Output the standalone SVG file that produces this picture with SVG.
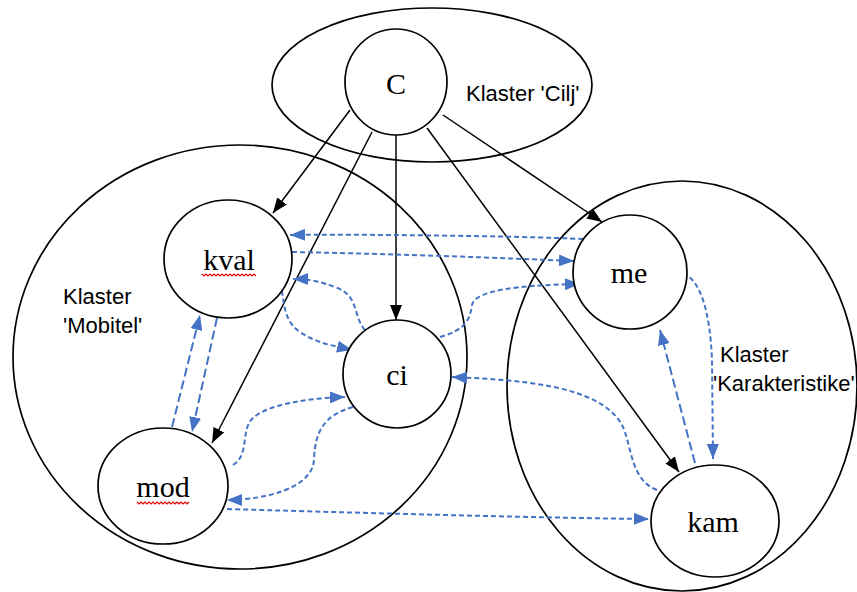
<svg xmlns="http://www.w3.org/2000/svg" width="857" height="592" viewBox="0 0 857 592">
<style>
.cl{fill:none;stroke:#000;stroke-width:1.7}
.nd{fill:#fff;stroke:#000;stroke-width:1.7}
.nt{font-family:"Liberation Serif","Times New Roman",serif;font-size:30px;fill:#000;text-anchor:middle}
.lb{font-family:"Liberation Sans",Arial,sans-serif;font-size:22px;fill:#000}
.bk{fill:none;stroke:#000;stroke-width:1.5;marker-end:url(#ab)}
.bs{fill:none;stroke:#4472C4;stroke-width:2;stroke-dasharray:5 3;marker-end:url(#ablue)}
.bl{fill:none;stroke:#4472C4;stroke-width:2;stroke-dasharray:9 4;marker-end:url(#ablue)}
.sq{fill:none;stroke:#e00;stroke-width:1.2}
</style>
<defs>
<marker id="ab" viewBox="0 0 15 12" refX="15" refY="6" markerWidth="15" markerHeight="12" markerUnits="userSpaceOnUse" orient="auto">
<path d="M0,0 L15,6 L0,12 z" fill="#000"/>
</marker>
<marker id="ablue" viewBox="0 0 15 12" refX="15" refY="6" markerWidth="15" markerHeight="12" markerUnits="userSpaceOnUse" orient="auto">
<path d="M0,0 L15,6 L0,12 z" fill="#4472C4"/>
</marker>
</defs>
<g id="clusters">
<ellipse id="cluster-cilj" class="cl" cx="432" cy="85" rx="160" ry="77"/>
<ellipse id="cluster-mobitel" class="cl" cx="240" cy="357" rx="227" ry="212"/>
<ellipse id="cluster-karakteristike" class="cl" cx="682" cy="386" rx="175" ry="205"/>
<text class="lb" x="466" y="101">Klaster 'Cilj'</text>
<text class="lb" x="63" y="304">Klaster</text>
<text class="lb" x="63" y="333">'Mobitel'</text>
<text class="lb" x="720" y="362">Klaster</text>
<text class="lb" x="713" y="391">'Karakteristike'</text>
</g>
<g id="connectors">
<path class="bk" d="M350,110 L273,213"/>
<path class="bk" d="M372,132 L212,443"/>
<path class="bk" d="M396,135 L396,320"/>
<path class="bk" d="M427,128 L679,472"/>
<path class="bk" d="M443,115 L602,222"/>
<path class="bs" d="M583,239 C520,236 350,234 290,235"/>
<path class="bs" d="M292,252 C400,254 500,258 574,261"/>
<path class="bs" d="M365,330 C352,315 360,296 335,287 S300,279 293,279"/>
<path class="bs" d="M280,283 C285,300 282,320 300,332 S335,346 352,350"/>
<path class="bs" d="M440,337 C465,330 470,320 472,305 C475,290 520,285 580,284"/>
<path class="bs" d="M657,490 C630,480 632,445 622,425 C600,385 520,380 452,377"/>
<path class="bs" d="M233,465 C250,455 240,430 253,418 C268,404 310,398 345,397"/>
<path class="bs" d="M353,407 C325,415 315,430 314,460 C312,490 260,500 227,500"/>
<path class="bs" d="M227,509 C400,514 550,518 649,519"/>
<path class="bl" d="M172,427 L200,315"/>
<path class="bl" d="M217,318 L192,432"/>
<path class="bs" d="M683,273 C700,280 710,310 712,360 L713,459"/>
<path class="bl" d="M695,463 L660,330"/>
</g>
<g id="node-C">
<ellipse class="nd" cx="396" cy="82" rx="51" ry="53"/>
<text class="nt" x="396" y="94">C</text>
</g>
<g id="node-kval">
<ellipse class="nd" cx="228" cy="259" rx="64" ry="59"/>
<text class="nt" x="229" y="270">kval</text>
<path class="sq" d="M202,274 l2,2 l2,-2 l2,2 l2,-2 l2,2 l2,-2 l2,2 l2,-2 l2,2 l2,-2 l2,2 l2,-2 l2,2 l2,-2 l2,2 l2,-2 l2,2 l2,-2 l2,2 l2,-2 l2,2 l2,-2 l2,2 l2,-2 l2,2 l2,-2 l2,2"/>
</g>
<g id="node-ci">
<ellipse class="nd" cx="397" cy="374" rx="54" ry="54"/>
<text class="nt" x="397" y="385">ci</text>
</g>
<g id="node-mod">
<ellipse class="nd" cx="163" cy="486" rx="65" ry="58"/>
<text class="nt" x="163" y="497">mod</text>
<path class="sq" d="M137,502 l2,2 l2,-2 l2,2 l2,-2 l2,2 l2,-2 l2,2 l2,-2 l2,2 l2,-2 l2,2 l2,-2 l2,2 l2,-2 l2,2 l2,-2 l2,2 l2,-2 l2,2 l2,-2 l2,2 l2,-2 l2,2 l2,-2 l2,2 l2,-2"/>
</g>
<g id="node-me">
<ellipse class="nd" cx="630" cy="272" rx="57" ry="57"/>
<text class="nt" x="629" y="283">me</text>
</g>
<g id="node-kam">
<ellipse class="nd" cx="715" cy="521" rx="64" ry="56"/>
<text class="nt" x="713" y="532">kam</text>
</g>
</svg>
